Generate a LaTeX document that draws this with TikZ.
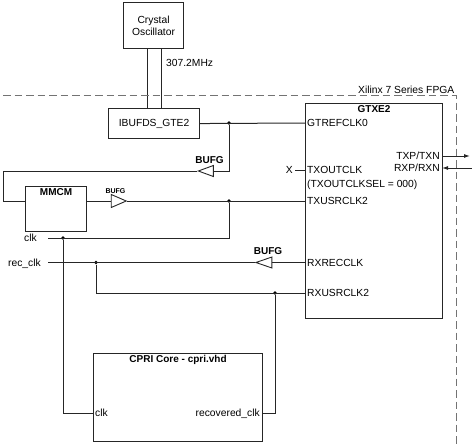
\documentclass[tikz,border=0pt]{standalone}
\usepackage{fontspec}
\setmainfont{Liberation Sans}
\usetikzlibrary{shapes.geometric, arrows.meta, positioning, calc}

\begin{document}
\begin{tikzpicture}[
    x=1pt, y=-1pt,
    >=Latex,
    font=\fontsize{10.3}{12.3}\selectfont,
    % Estilos de cajas y textos
    blockbox/.style={rectangle, draw=black!85, line width=1.1pt, anchor=north west, inner sep=0pt, align=center},
    titletext/.style={font=\fontsize{10}{12}\selectfont\bfseries, anchor=north, inner sep=2pt},
    porttext/.style={inner sep=2pt, text height=7.2pt, text depth=0pt},
    bufgtri/.style={isosceles triangle, isosceles triangle stretches, draw=black!85, line width=0.9pt, inner sep=0pt, minimum width=11, minimum height=15},
    bufglabel/.style={font=\fontsize{10}{12}\selectfont\bfseries, inner sep=1pt},
    bufgsmall/.style={font=\fontsize{7}{8}\selectfont\bfseries, inner sep=1pt},
    wire/.style={draw=black!85, line width=1pt},
    junction/.style={circle, fill=black, inner sep=0pt, minimum size=3.8pt},
    fpgaline/.style={draw=black!55, dash pattern=on 7.5pt off 4pt, line width=0.8pt}
]
\useasboundingbox (0,0) rectangle (472,447);

% -------------------------
% RELOJ DE REFERENCIA
% -------------------------
\node[blockbox, minimum width=60, minimum height=46] (xtal) at (123,2) {Crystal\\Oscillator};
\node[blockbox, minimum width=91, minimum height=30] (ibufds) at (108,108) {IBUFDS\_GTE2};

\draw[wire] ([xshift=-6pt]xtal.south) -- ([xshift=-6pt]xtal.south |- ibufds.north);
\draw[wire] ([xshift=8pt]xtal.south) -- ([xshift=8pt]xtal.south |- ibufds.north);
\node[anchor=west, inner sep=0pt] (freq) at (166,63) {307.2MHz};

% Limite de la FPGA
\coordinate (fpga_l) at (3,95.5);
\coordinate (fpga_r) at (456,95.5);
\coordinate (fpga_b) at (456,447);
\draw[fpgaline] (fpga_l) -- (fpga_r) -- (fpga_b);
\node[anchor=south east, inner sep=1.5pt] (fpga_name) at (fpga_r) {Xilinx 7 Series FPGA};

% -------------------------
% TRANSCEPTOR GTXE2
% -------------------------
\node[blockbox, minimum width=137, minimum height=215] (gtx) at (305,103) {};
\node[titletext] (gtx_title) at (gtx.north) {GTXE2};

\node[porttext, anchor=west] (gtrefclk) at (305,123) {GTREFCLK0};
\node[porttext, anchor=west] (txoutclk) at (305,170) {TXOUTCLK};
\node[porttext, anchor=west] (txoutsel) at (305,183.5) {(TXOUTCLKSEL = 000)};
\node[porttext, anchor=west] (txusrclk) at (305,201) {TXUSRCLK2};
\node[porttext, anchor=west] (rxrecclk) at (305,262.5) {RXRECCLK};
\node[porttext, anchor=west] (rxusrclk) at (305,293) {RXUSRCLK2};
\node[porttext, anchor=east] (txp) at (442,156) {TXP/TXN};
\node[porttext, anchor=east] (rxp) at (442,168) {RXP/RXN};

\coordinate (txp_out) at (470,156);
\coordinate (rxp_in) at (472,168);
\draw[wire, -{Latex[length=6pt,width=4pt]}] (txp.east) -- (txp_out);
\draw[wire, -{Latex[length=6pt,width=4pt]}] (rxp_in) -- (rxp.east);

\node[porttext, anchor=east] (xmark) at (295,170) {X};
\draw[wire] (xmark.east) -- (txoutclk.west);

% -------------------------
% MMCM Y BUFG
% -------------------------
\node[blockbox, minimum width=61, minimum height=45] (mmcm) at (25,186) {};
\node[titletext] (mmcm_title) at (mmcm.north) {MMCM};

\node[bufgtri, shape border rotate=180] (bufg_a) at (209.5,171) {};
\node[bufglabel, above=2pt of bufg_a] (bufg_a_lbl) {BUFG};
\node[bufgtri, minimum width=13] (bufg_b) at (115.5,201) {};
\node[bufgsmall, above=1.5pt of bufg_b] (bufg_b_lbl) {BUFG};
\node[bufgtri, shape border rotate=180, minimum height=16] (bufg_c) at (268,262.5) {};
\node[bufglabel, above=2pt of bufg_c] (bufg_c_lbl) {BUFG};

\node[junction] (dot_ref) at (229,123) {};
\node[junction] (dot_txusr) at (229,201) {};
\node[junction] (dot_clk) at (63,238) {};
\node[junction] (dot_rec) at (96,262.5) {};
\node[junction] (dot_rxusr) at (275,293) {};

% Referencia -> MMCM
\draw[wire] (ibufds.east) -- (gtrefclk.west);
\draw[wire] (dot_ref) |- (bufg_a.lower side);
\coordinate (loop_a) at (3,171);
\coordinate (loop_b) at (3,201);
\draw[wire] (bufg_a.apex) -- (loop_a) -- (loop_b) -- (mmcm.west |- loop_b);

% MMCM -> TXUSRCLK2 y clk
\draw[wire] (mmcm.east |- bufg_b) -- (bufg_b.lower side);
\draw[wire] (bufg_b.apex) -- (txusrclk.west);
\coordinate (clk_in) at (48,238);
\node[porttext, anchor=east] (clk_lbl) at (39,238) {clk};
\draw[wire] (dot_txusr) |- (clk_in);

% RXRECCLK -> rec_clk
\coordinate (recclk_in) at (48,262.5);
\node[porttext, anchor=east] (recclk_lbl) at (43,262.5) {rec\_clk};
\draw[wire] (rxrecclk.west) -- (bufg_c.lower side);
\draw[wire] (bufg_c.apex) -- (recclk_in);
\draw[wire] (dot_rec) |- (rxusrclk.west);

% -------------------------
% NUCLEO CPRI
% -------------------------
\node[blockbox, minimum width=169, minimum height=88] (cpri) at (93,353) {};
\node[titletext] (cpri_title) at (cpri.north) {CPRI Core - cpri.vhd};
\node[porttext, anchor=west] (cpri_clk) at (93,413) {clk};
\node[porttext, anchor=east] (cpri_rec) at (262,413) {recovered\_clk};

\draw[wire] (dot_clk) |- (cpri_clk.west);
\draw[wire] (dot_rxusr) |- (cpri_rec.east);

\end{tikzpicture}
\end{document}
